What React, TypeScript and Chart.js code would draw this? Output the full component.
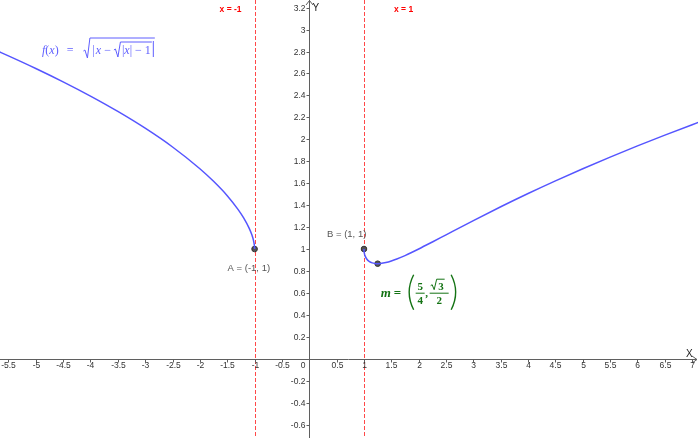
import React, { useEffect, useRef } from "react";
import { Chart, registerables } from "chart.js";

Chart.register(...registerables);

// Curve samples (left branch x <= -1, right branch x >= 1)
const LEFT_X = [-5.7, -5.5, -5, -4.5, -4, -3.5, -3, -2.5, -2, -1.75, -1.5, -1.3, -1.2, -1.1, -1.05, -1.02, -1.005, -1.001, -1];
const LEFT_Y = [2.805, 2.761, 2.646, 2.524, 2.394, 2.254, 2.101, 1.93, 1.732, 1.617, 1.486, 1.359, 1.283, 1.19, 1.129, 1.078, 1.037, 1.016, 1];
const RIGHT_X = [1, 1.001, 1.005, 1.01, 1.02, 1.05, 1.1, 1.15, 1.2, 1.25, 1.3, 1.4, 1.5, 1.6, 1.75, 2, 2.25, 2.5, 3, 3.5, 4, 4.5, 5, 5.5, 6, 6.5, 7, 7.2];
const RIGHT_Y = [1, 0.9846, 0.9666, 0.9539, 0.9373, 0.9091, 0.8853, 0.8733, 0.8676, 0.866, 0.8673, 0.8761, 0.8904, 0.9085, 0.9402, 1, 1.064, 1.1293, 1.2593, 1.3852, 1.506, 1.6215, 1.7321, 1.8381, 1.9401, 2.0383, 2.1332, 2.1703];

const POINT_X = [-1, 1, 1.25];
const POINT_Y = [1, 1, 0.866];
const POINT_LABELS = ["A = (-1, 1)", "B = (1, 1)", ""];

const ASYMPTOTES = [-1, 1];
const ASYMPTOTE_LABELS = ["x = -1", "x = 1"];

const X_TICKS = [-5.5, -5, -4.5, -4, -3.5, -3, -2.5, -2, -1.5, -1, -0.5, 0.5, 1, 1.5, 2, 2.5, 3, 3.5, 4, 4.5, 5, 5.5, 6, 6.5, 7];
const Y_TICKS = [-0.6, -0.4, -0.2, 0.2, 0.4, 0.6, 0.8, 1, 1.2, 1.4, 1.6, 1.8, 2, 2.2, 2.4, 2.6, 2.8, 3, 3.2];
const X_RANGE = [-5.654, 7.106];
const Y_RANGE = [-0.723, 3.27];

const AXIS_COLOR = "#5f5f5f";
const TEXT_COLOR = "#333333";
const CURVE_COLOR = "rgb(85,85,255)";
const FORMULA_COLOR = "rgb(95,95,255)";
const RED = "rgb(255,40,40)";
const GREEN = "rgb(20,115,20)";
const SANS = '"Liberation Sans", Arial, sans-serif';
const SERIF = '"Liberation Serif", "Times New Roman", serif';

function drawRadical(ctx: CanvasRenderingContext2D, r: number, by: number, top: number, end: number) {
  ctx.beginPath();
  ctx.moveTo(r, by - 4);
  ctx.lineTo(r + 1.5, by - 5);
  ctx.lineTo(r + 4, by + 3);
  ctx.lineTo(r + 6.5, top);
  ctx.lineTo(end, top);
  ctx.stroke();
}

function drawFormula(ctx: CanvasRenderingContext2D, sx: number, by: number) {
  ctx.save();
  ctx.fillStyle = FORMULA_COLOR;
  ctx.strokeStyle = FORMULA_COLOR;
  ctx.lineWidth = 1;
  ctx.textBaseline = "alphabetic";
  ctx.textAlign = "left";
  const it = `italic 12px ${SERIF}`;
  const up = `12px ${SERIF}`;
  let cx = sx;
  const put = (t: string, f: string) => {
    ctx.font = f;
    ctx.fillText(t, cx, by);
    cx += ctx.measureText(t).width;
  };
  put("f", it);
  put("(", up);
  put("x", it);
  put(")", up);
  cx += 8;
  put("=", up);
  cx += 10;
  const r1 = cx;
  cx += 9;
  put("|", up);
  cx += 1;
  put("x", it);
  put(" \u2212 ", up);
  const r2 = cx;
  cx += 8;
  put("|", up);
  put("x", it);
  put("|", up);
  put(" \u2212 1", up);
  const e2 = cx + 1;
  cx += 2;
  ctx.beginPath();
  ctx.moveTo(cx + 0.5, by - 13);
  ctx.lineTo(cx + 0.5, by + 3);
  ctx.stroke();
  const e1 = cx + 2;
  drawRadical(ctx, r2, by, by - 12, e2);
  drawRadical(ctx, r1, by + 1, by - 16, e1);
  ctx.restore();
}

function drawParen(ctx: CanvasRenderingContext2D, x: number, top: number, bottom: number, dir: number) {
  const mid = (top + bottom) / 2;
  ctx.beginPath();
  ctx.moveTo(x, top);
  ctx.quadraticCurveTo(x - dir * 9, mid, x, bottom);
  ctx.stroke();
}

function drawMLabel(ctx: CanvasRenderingContext2D, px: number, py: number) {
  ctx.save();
  ctx.fillStyle = GREEN;
  ctx.strokeStyle = GREEN;
  ctx.textBaseline = "alphabetic";
  const bx = px + 3;
  const mid = py + 29;
  ctx.font = `bold italic 13px ${SERIF}`;
  ctx.textAlign = "left";
  ctx.fillText("m", bx, mid + 4);
  ctx.font = `bold 13px ${SERIF}`;
  ctx.fillText("=", bx + 13, mid + 4);
  ctx.lineWidth = 1.4;
  drawParen(ctx, bx + 33, mid - 18, mid + 17, 1);
  ctx.lineWidth = 1;
  ctx.font = `bold 11px ${SERIF}`;
  ctx.textAlign = "center";
  const f1 = bx + 39.5;
  ctx.fillText("5", f1, mid - 3);
  ctx.fillText("4", f1, mid + 11);
  ctx.beginPath();
  ctx.moveTo(f1 - 4.5, mid + 0.5);
  ctx.lineTo(f1 + 4.5, mid + 0.5);
  ctx.stroke();
  ctx.textAlign = "left";
  ctx.fillText(",", f1 + 5, mid + 4);
  const f2 = f1 + 19;
  ctx.beginPath();
  ctx.moveTo(f2 - 9.5, mid + 0.5);
  ctx.lineTo(f2 + 9.5, mid + 0.5);
  ctx.stroke();
  ctx.fillText("3", f2 - 1, mid - 3);
  ctx.beginPath();
  ctx.moveTo(f2 - 8.5, mid - 7);
  ctx.lineTo(f2 - 7, mid - 8);
  ctx.lineTo(f2 - 5, mid - 3);
  ctx.lineTo(f2 - 2.5, mid - 13.5);
  ctx.lineTo(f2 + 5.5, mid - 13.5);
  ctx.stroke();
  ctx.textAlign = "center";
  ctx.fillText("2", f2, mid + 11);
  ctx.lineWidth = 1.4;
  drawParen(ctx, f2 + 12, mid - 18, mid + 17, -1);
  ctx.restore();
}

const overlay = {
  id: "geoOverlay",
  beforeDatasetsDraw(chart: any) {
    const { ctx, scales, width, height } = chart;
    const xs = scales.x;
    const ys = scales.y;
    const x0 = xs.getPixelForValue(0);
    const y0 = ys.getPixelForValue(0);
    ctx.save();
    ctx.strokeStyle = RED;
    ctx.globalAlpha = 0.85;
    ctx.lineWidth = 1;
    ctx.setLineDash([4, 2]);
    for (const a of ASYMPTOTES) {
      const px = Math.round(xs.getPixelForValue(a)) + 0.5;
      ctx.beginPath();
      ctx.moveTo(px, 0);
      ctx.lineTo(px, height);
      ctx.stroke();
    }
    ctx.globalAlpha = 1;
    ctx.setLineDash([]);
    const ax = Math.round(x0) + 0.5;
    const ay = Math.round(y0) + 0.5;
    ctx.strokeStyle = AXIS_COLOR;
    ctx.lineWidth = 1;
    ctx.beginPath();
    ctx.moveTo(0, ay);
    ctx.lineTo(width - 1, ay);
    ctx.moveTo(ax, 0);
    ctx.lineTo(ax, height);
    ctx.moveTo(width - 6, ay - 3.5);
    ctx.lineTo(width - 1, ay);
    ctx.lineTo(width - 6, ay + 3.5);
    ctx.moveTo(ax - 3.5, 5);
    ctx.lineTo(ax, 0.5);
    ctx.lineTo(ax + 3.5, 5);
    ctx.stroke();
    ctx.fillStyle = TEXT_COLOR;
    ctx.font = `8.5px ${SANS}`;
    ctx.textAlign = "center";
    ctx.textBaseline = "top";
    for (const t of X_TICKS) {
      const px = Math.round(xs.getPixelForValue(t)) + 0.5;
      ctx.beginPath();
      ctx.moveTo(px, ay);
      ctx.lineTo(px, ay + 3);
      ctx.stroke();
      ctx.fillText(String(t), px, ay + 2);
    }
    ctx.textAlign = "right";
    ctx.fillText("0", ax - 4, ay + 2);
    ctx.textBaseline = "middle";
    for (const t of Y_TICKS) {
      const py = Math.round(ys.getPixelForValue(t)) + 0.5;
      ctx.beginPath();
      ctx.moveTo(ax - 3, py);
      ctx.lineTo(ax, py);
      ctx.stroke();
      ctx.fillText(String(t), ax - 4, py);
    }
    ctx.font = `10px ${SANS}`;
    ctx.fillStyle = "#222";
    ctx.textAlign = "left";
    ctx.textBaseline = "alphabetic";
    ctx.fillText("X", width - 12, ay - 3);
    ctx.fillText("Y", ax + 3, 11);
    ctx.restore();
  },
  afterDatasetsDraw(chart: any) {
    const { ctx, scales, chartArea } = chart;
    const xs = scales.x;
    const ys = scales.y;
    ctx.save();
    ctx.fillStyle = "rgb(255,0,0)";
    ctx.font = `bold 8.5px ${SANS}`;
    ctx.textAlign = "left";
    ctx.textBaseline = "middle";
    ASYMPTOTES.forEach((a, i) => {
      const px = xs.getPixelForValue(a);
      const dx = a < 0 ? -35 : 30;
      ctx.fillText(ASYMPTOTE_LABELS[i], px + dx, 10);
    });
    ctx.fillStyle = "#555";
    ctx.font = `9.5px ${SANS}`;
    POINT_LABELS.forEach((lab, i) => {
      if (!lab) return;
      const px = xs.getPixelForValue(POINT_X[i]);
      const py = ys.getPixelForValue(POINT_Y[i]);
      if (POINT_X[i] < 0) ctx.fillText(lab, px - 27, py + 19);
      else ctx.fillText(lab, px - 37, py - 15);
    });
    drawFormula(ctx, chartArea.left + 42, chartArea.top + 54);
    const mx = xs.getPixelForValue(POINT_X[2]);
    const my = ys.getPixelForValue(POINT_Y[2]);
    drawMLabel(ctx, mx, my);
    ctx.restore();
  },
};

export default function App() {
  const ref = useRef<HTMLCanvasElement | null>(null);
  useEffect(() => {
    document.body.style.margin = "0";
    const canvas = ref.current;
    if (!canvas) return;
    const left = LEFT_X.map((x, i) => ({ x, y: LEFT_Y[i] }));
    const right = RIGHT_X.map((x, i) => ({ x, y: RIGHT_Y[i] }));
    const pts = POINT_X.map((x, i) => ({ x, y: POINT_Y[i] }));
    const chart = new Chart(canvas, {
      type: "line",
      data: {
        datasets: [
          {
            data: left,
            borderColor: CURVE_COLOR,
            borderWidth: 1.5,
            pointRadius: 0,
            cubicInterpolationMode: "monotone",
            fill: false,
          },
          {
            data: right,
            borderColor: CURVE_COLOR,
            borderWidth: 1.5,
            pointRadius: 0,
            cubicInterpolationMode: "monotone",
            fill: false,
          },
          {
            data: pts,
            showLine: false,
            pointRadius: 2.8,
            pointBackgroundColor: "#555",
            pointBorderColor: "#333",
            pointBorderWidth: 1,
          },
        ],
      } as any,
      options: {
        animation: false,
        responsive: false,
        maintainAspectRatio: false,
        layout: { padding: 0, autoPadding: false },
        plugins: { legend: { display: false }, tooltip: { enabled: false } },
        events: [],
        scales: {
          x: { type: "linear", min: X_RANGE[0], max: X_RANGE[1], display: false },
          y: { type: "linear", min: Y_RANGE[0], max: Y_RANGE[1], display: false },
        },
      } as any,
      plugins: [overlay],
    });
    return () => chart.destroy();
  }, []);
  return <canvas ref={ref} width={698} height={438} style={{ display: "block" }} />;
}
